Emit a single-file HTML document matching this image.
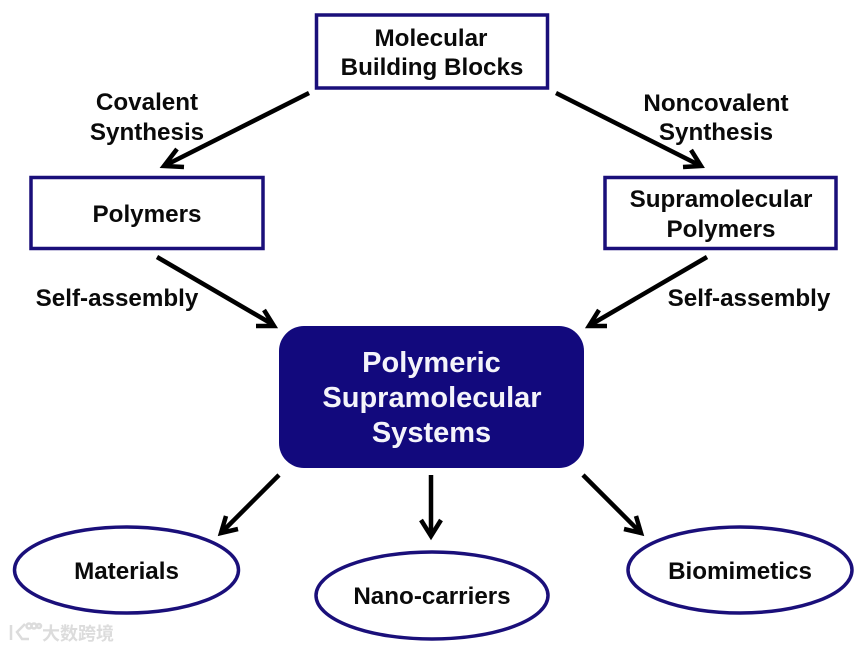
<!DOCTYPE html>
<html>
<head>
<meta charset="utf-8">
<style>
html,body{margin:0;padding:0;background:#fff;width:865px;height:649px;overflow:hidden}
svg{display:block}
text{font-family:"Liberation Sans",sans-serif;font-weight:bold;font-size:24.2px;fill:#0a0a0a;text-anchor:middle}
.w{fill:#f4f4fa;font-size:29px}
.b{fill:#fff;stroke:#1a0f7a;stroke-width:3.5}
.a{fill:none;stroke:#000;stroke-width:4.5}
.wm{font-family:"Liberation Sans","Noto Sans CJK SC",sans-serif;font-size:18px;fill:#dcdcdc;text-anchor:start;font-weight:bold}
</style>
</head>
<body>
<svg width="865" height="649" viewBox="0 0 865 649" xmlns="http://www.w3.org/2000/svg">
<rect class="b" x="316.500" y="15" width="231" height="73"/>
<rect class="b" x="31" y="177.500" width="232" height="71"/>
<rect class="b" x="605" y="177.500" width="231" height="71"/>
<rect x="279" y="326" width="305" height="142" rx="25" fill="#12097d"/>
<ellipse class="b" cx="126.500" cy="570" rx="112" ry="43"/>
<ellipse class="b" cx="432" cy="595.500" rx="116" ry="43.500"/>
<ellipse class="b" cx="740" cy="570" rx="112" ry="43"/>

<g class="a">
<path d="M309 93L166 165"/><path d="M177 149L164 166L184 167"/>
<path d="M556 93L699 165"/><path d="M691 150L701 166L683 167"/>
<path d="M157 257L272 324"/><path d="M264 310L274 326L256 326"/>
<path d="M707 257L592 324"/><path d="M599 310L589 326L607 326"/>
<path d="M279 475L223 531"/><path d="M226 516L221 533L238 529"/>
<path d="M431 475L431 534"/><path d="M421 520L431 536L441 520"/>
<path d="M583 475L639 531"/><path d="M636 516L641 533L624 529"/>
</g>

<text x="431" y="46">Molecular</text>
<text x="432" y="75">Building Blocks</text>
<text x="147" y="110">Covalent</text>
<text x="147" y="140">Synthesis</text>
<text x="716" y="111">Noncovalent</text>
<text x="716" y="140">Synthesis</text>
<text x="147" y="222">Polymers</text>
<text x="721" y="207">Supramolecular</text>
<text x="721" y="237">Polymers</text>
<text x="117" y="306">Self-assembly</text>
<text x="749" y="306">Self-assembly</text>
<text class="w" x="431.500" y="372">Polymeric</text>
<text class="w" x="432" y="407">Supramolecular</text>
<text class="w" x="431.500" y="442">Systems</text>
<text x="126.500" y="579">Materials</text>
<text x="432" y="604">Nano-carriers</text>
<text x="740" y="579">Biomimetics</text>

<g fill="none" stroke="#dcdcdc" stroke-width="2.500">
<path d="M11 625L11 640"/>
<path d="M25 624L17 632L22 639L29 639"/>
<circle cx="29" cy="626" r="2.500"/><circle cx="34" cy="626" r="2.500"/><circle cx="39" cy="626" r="2"/>
</g>
<text class="wm" x="42" y="640">大数跨境</text>
</svg>
</body>
</html>
